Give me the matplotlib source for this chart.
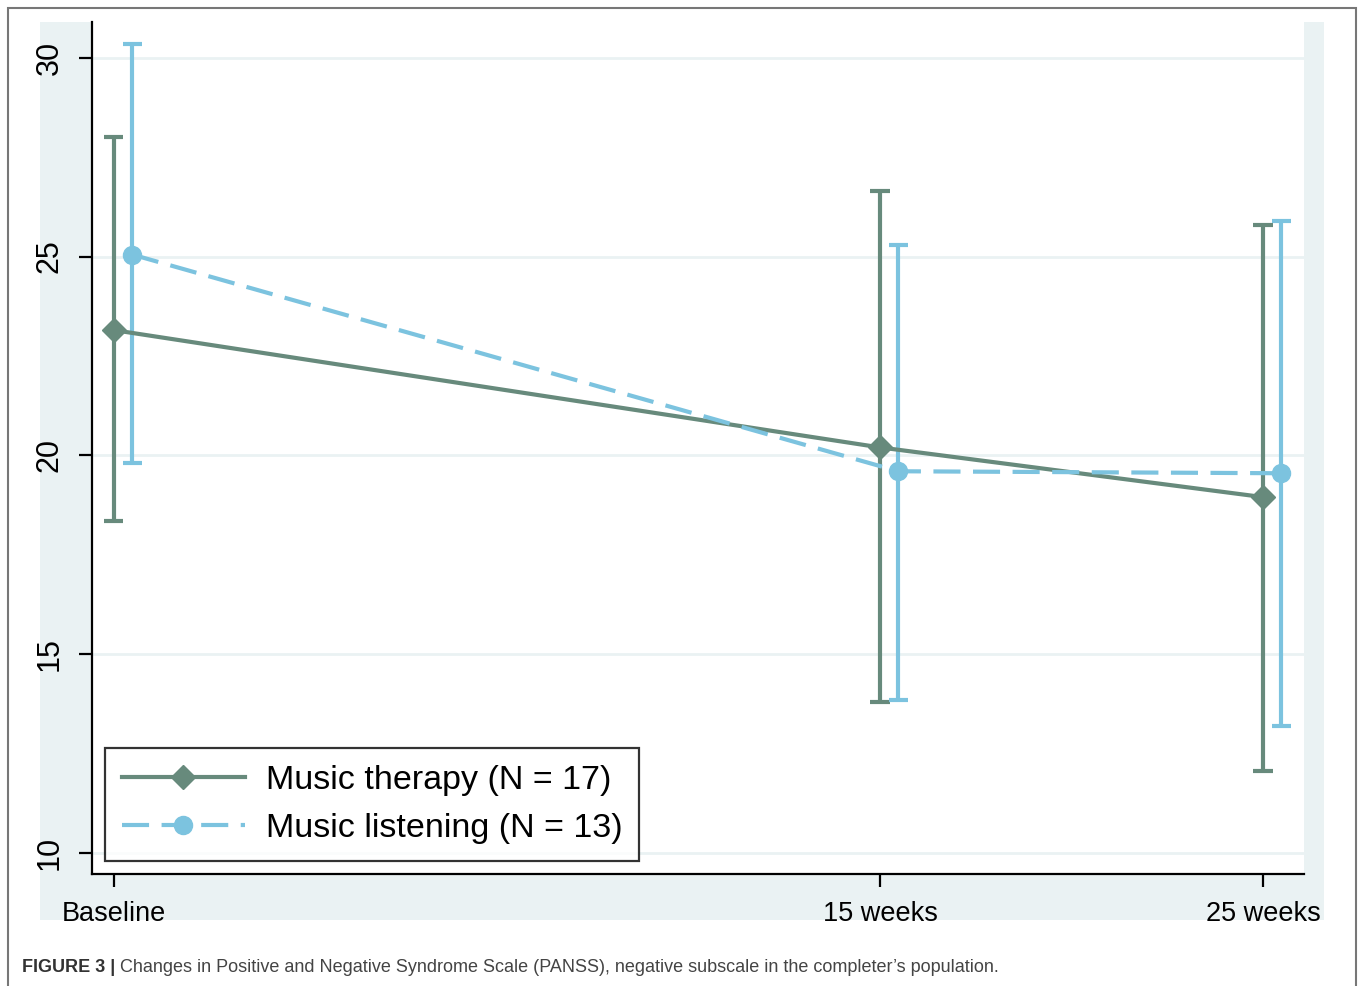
import matplotlib
matplotlib.use('Agg')
import matplotlib.pyplot as plt
from matplotlib.patches import Rectangle

plt.rcParams['font.family'] = ['Liberation Sans', 'DejaVu Sans']

# data
time_labels = ['Baseline', '15 weeks', '25 weeks']
time_pos = [0, 2, 3]

therapy_mean = [23.15, 20.2, 18.95]
therapy_low = [18.35, 13.8, 12.05]
therapy_high = [28.0, 26.65, 25.8]

listening_mean = [25.05, 19.6, 19.55]
listening_low = [19.8, 13.85, 13.2]
listening_high = [30.35, 25.3, 25.9]

therapy_col = '#678a7c'
listen_col = '#7cc3df'
bg_col = '#eaf2f3'

fig = plt.figure(figsize=(13.6, 9.86), dpi=100)
W, H = 1360, 986

# outer frame (open at the bottom) and gray background
fig.patches.append(Rectangle((8/W, -20/H), 1348/W, 998/H, transform=fig.transFigure,
                             fill=False, edgecolor='#777777', lw=1.5))
fig.patches.append(Rectangle((40/W, 1-920/H), 1284/W, 898/H, transform=fig.transFigure,
                             facecolor=bg_col, edgecolor='none', zorder=0))

ax = fig.add_axes([92/W, 1-874/H, (1304-92)/W, (874-22)/H])
ax.set_facecolor('white')
ax.set_zorder(1)

for s in ['top', 'right']:
    ax.spines[s].set_visible(False)
for s in ['left', 'bottom']:
    ax.spines[s].set_linewidth(1.6)
    ax.spines[s].set_color('black')

ax.set_yticks([10, 15, 20, 25, 30])
ax.grid(axis='y', color=bg_col, lw=2, zorder=0)
ax.set_axisbelow(True)

# error bars
off = 0.048
lis_pos = [p + off for p in time_pos]
ax.vlines(time_pos, therapy_low, therapy_high, color=therapy_col, lw=3, zorder=2)
ax.hlines(therapy_low + therapy_high, [p - 0.025 for p in time_pos] * 2,
          [p + 0.025 for p in time_pos] * 2, color=therapy_col, lw=3, zorder=2)
ax.vlines(lis_pos, listening_low, listening_high, color=listen_col, lw=3, zorder=2)
ax.hlines(listening_low + listening_high, [p - 0.025 for p in lis_pos] * 2,
          [p + 0.025 for p in lis_pos] * 2, color=listen_col, lw=3, zorder=2)

ax.plot(time_pos, therapy_mean, color=therapy_col, lw=3, marker='D', ms=12.5,
        label='Music therapy (N = 17)', zorder=3)
ax.plot(lis_pos, listening_mean, color=listen_col, lw=3, ls=(0, (6.5, 3)), marker='o',
        ms=13, label='Music listening (N = 13)', zorder=3)

ax.set_xlim(-0.057, 3.107)
ax.set_ylim(9.47, 30.9)
ax.set_xticks(time_pos)
ax.set_xticklabels(time_labels, fontsize=19.5)
ax.set_yticklabels(['10', '15', '20', '25', '30'], fontsize=22, rotation=90, va='center')
ax.tick_params(axis='both', length=9.5, width=1.6, color='black')
ax.tick_params(axis='x', pad=10)
ax.tick_params(axis='y', pad=10)

leg = ax.legend(loc='lower left', bbox_to_anchor=(13/1212, 13/852), fontsize=24.5,
                frameon=True, fancybox=False, edgecolor='black', handlelength=3.6,
                borderpad=0.5, labelspacing=0.5, handletextpad=0.62, borderaxespad=0)
leg.get_frame().set_linewidth(1.6)

# caption
t1 = fig.text(22/W, 1-967/H, 'FIGURE 3 |', fontsize=13, fontweight='bold',
              color='#333333', va='center')
fig.canvas.draw()
bb = t1.get_window_extent()
fig.text((bb.x1 + 5)/W, 1-967/H,
         'Changes in Positive and Negative Syndrome Scale (PANSS), negative subscale in the completer\u2019s population.',
         fontsize=13, color='#444444', va='center')

fig.savefig('out.png', dpi=100)
